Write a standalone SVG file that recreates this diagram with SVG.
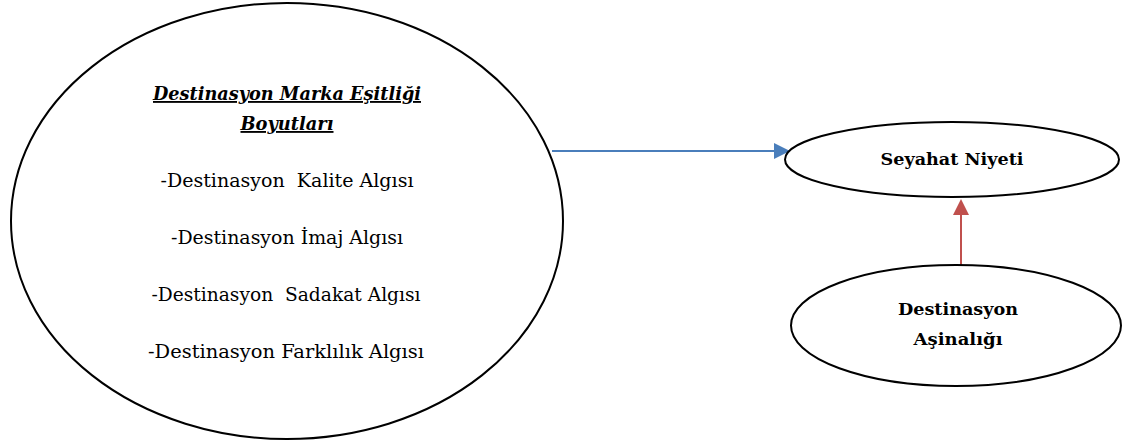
<svg xmlns="http://www.w3.org/2000/svg" width="1122" height="443" viewBox="0 0 1122 443">
<style>
.node{fill:#ffffff;stroke:#000000;stroke-width:2}
.t{font-family:"DejaVu Serif","Liberation Serif",serif;font-size:18.5px;fill:#000;text-anchor:middle}
.title{font-weight:bold;font-style:italic;text-decoration:underline}
.b{font-family:"DejaVu Serif","Liberation Serif",serif;font-size:17px;font-weight:bold;fill:#000;text-anchor:middle}
</style>
<defs>
<marker id="ab" markerUnits="userSpaceOnUse" markerWidth="17" markerHeight="17" refX="2" refY="8" orient="auto"><path d="M0,0 L16,8 L0,16 z" fill="#4A7EBB"/></marker>
<marker id="ar" markerUnits="userSpaceOnUse" markerWidth="17" markerHeight="17" refX="2" refY="8" orient="auto"><path d="M0,0 L16,8 L0,16 z" fill="#C0504D"/></marker>
</defs>
<rect width="1122" height="443" fill="#ffffff"/>
<g id="connectors">
<line x1="552" y1="151" x2="776" y2="151" stroke="#4A7EBB" stroke-width="2" marker-end="url(#ab)"/>
<line x1="961" y1="265" x2="961" y2="213" stroke="#C0504D" stroke-width="2" marker-end="url(#ar)"/>
</g>
<g id="node-boyutlar">
<ellipse class="node" cx="287" cy="221" rx="276" ry="218"/>
<text class="t title" x="287" y="100" textLength="268" lengthAdjust="spacingAndGlyphs">Destinasyon Marka Eşitliği</text>
<text class="t title" x="287" y="130" textLength="93" lengthAdjust="spacingAndGlyphs">Boyutları</text>
<text class="t" x="287" y="187" textLength="253" lengthAdjust="spacingAndGlyphs" xml:space="preserve">-Destinasyon  Kalite Algısı</text>
<text class="t" x="287" y="244" textLength="232" lengthAdjust="spacingAndGlyphs">-Destinasyon İmaj Algısı</text>
<text class="t" x="286" y="301" textLength="269" lengthAdjust="spacingAndGlyphs" xml:space="preserve">-Destinasyon  Sadakat Algısı</text>
<text class="t" x="286" y="358" textLength="276" lengthAdjust="spacingAndGlyphs">-Destinasyon Farklılık Algısı</text>
</g>
<g id="node-seyahat">
<ellipse class="node" cx="952" cy="159.5" rx="167" ry="37.5"/>
<text class="b" x="952" y="165" textLength="143" lengthAdjust="spacingAndGlyphs">Seyahat Niyeti</text>
</g>
<g id="node-asinalik">
<ellipse class="node" cx="956" cy="325.5" rx="165" ry="60.5"/>
<text class="b" x="958" y="315" textLength="120" lengthAdjust="spacingAndGlyphs">Destinasyon</text>
<text class="b" x="958" y="345" textLength="89" lengthAdjust="spacingAndGlyphs">Aşinalığı</text>
</g>
</svg>
